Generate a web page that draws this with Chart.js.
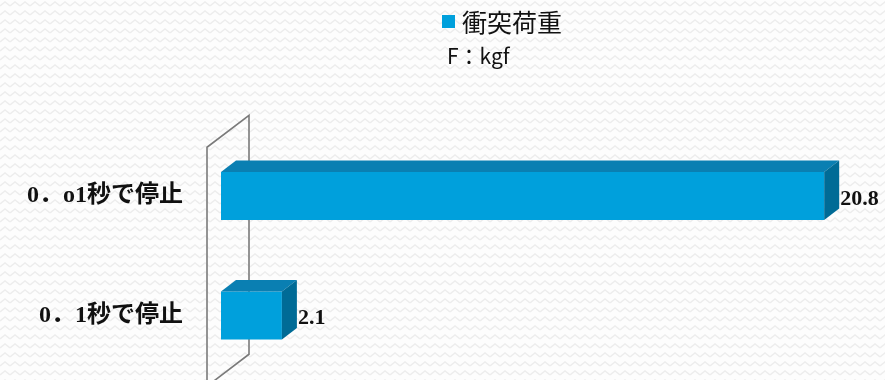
<!DOCTYPE html>
<html lang="ja">
<head>
<meta charset="utf-8">
<title>衝突荷重</title>
<script src="https://cdn.jsdelivr.net/npm/chart.js@4.4.1/dist/chart.umd.min.js"></script>
<style>
  html, body {
    margin: 0;
    padding: 0;
  }
  body {
    background-color: #fdfdfd;
    background-image: url("data:image/svg+xml;utf8,<svg xmlns='http://www.w3.org/2000/svg' width='10' height='9'><polyline points='0,6 5,2 10,6' fill='none' stroke='%23ededed' stroke-width='1.4'/></svg>");
  }
  #wrap {
    width: 885px;
    height: 380px;
    position: relative;
  }
</style>
</head>
<body>
<div id="wrap"><canvas id="grafico"></canvas></div>
<script>
// categorias e valores (kgf)
const categorias = ['0．o1秒で停止', '0．1秒で停止'];
const valores = [20.8, 2.1];
const nomeSerie = '衝突荷重';
const unidade = 'F：kgf';
const eixoMax = 22;

const corFrente = '#00a0dc';
const corTopo = '#0a7fb2';
const corLado = '#006b96';

const prof = { dx: 15, dy: 11.5 };

// parede 3D atrás das barras
const parede = {
  id: 'parede',
  beforeDatasetsDraw(chart) {
    const { ctx, chartArea: a } = chart;
    const xf = a.left - 14, xb = a.left + 28;
    ctx.save();
    ctx.strokeStyle = '#7a7a7a';
    ctx.lineWidth = 1.6;
    ctx.beginPath();
    ctx.moveTo(xf, a.bottom + 11);
    ctx.lineTo(xf, a.top + 11);
    ctx.lineTo(xb, a.top - 21);
    ctx.lineTo(xb, a.bottom - 21);
    ctx.lineTo(xf, a.bottom + 11);
    ctx.stroke();
    ctx.restore();
  }
};

// faces de cima e do lado + rótulos de valor
const barras3d = {
  id: 'barras3d',
  afterDatasetsDraw(chart) {
    const { ctx } = chart;
    const meta = chart.getDatasetMeta(0);
    const dados = chart.data.datasets[0].data;
    ctx.save();
    meta.data.forEach((bar, i) => {
      const { x, y, base, height } = bar.getProps(['x', 'y', 'base', 'height'], true);
      const topo = y - height / 2, baixo = y + height / 2;

      ctx.fillStyle = corTopo;
      ctx.beginPath();
      ctx.moveTo(base, topo);
      ctx.lineTo(base + prof.dx, topo - prof.dy);
      ctx.lineTo(x + prof.dx, topo - prof.dy);
      ctx.lineTo(x, topo);
      ctx.closePath();
      ctx.fill();

      ctx.fillStyle = corLado;
      ctx.beginPath();
      ctx.moveTo(x, topo);
      ctx.lineTo(x + prof.dx, topo - prof.dy);
      ctx.lineTo(x + prof.dx, baixo - prof.dy);
      ctx.lineTo(x, baixo);
      ctx.closePath();
      ctx.fill();

      ctx.fillStyle = '#111';
      ctx.font = 'bold 22px "Liberation Serif", serif';
      ctx.textAlign = 'left';
      ctx.textBaseline = 'middle';
      ctx.fillText(String(dados[i]), x + prof.dx + 1, y + 3);
    });
    ctx.restore();
  }
};

// legenda e unidade no topo
const legenda = {
  id: 'legenda',
  afterDraw(chart) {
    const { ctx } = chart;
    const ds = chart.data.datasets[0];
    ctx.save();
    ctx.fillStyle = ds.backgroundColor;
    ctx.fillRect(442, 15, 13, 13);
    ctx.fillStyle = '#111';
    ctx.textAlign = 'left';
    ctx.textBaseline = 'middle';
    ctx.font = '25px "Noto Sans CJK JP", sans-serif';
    ctx.fillText(ds.label, 462, 22);
    ctx.font = '21px "Noto Sans CJK JP", sans-serif';
    ctx.fillText(unidade, 447, 56);
    ctx.restore();
  }
};

const ctx = document.getElementById('grafico').getContext('2d');

new Chart(ctx, {
  type: 'bar',
  data: {
    labels: categorias,
    datasets: [{
      label: nomeSerie,
      data: valores,
      backgroundColor: corFrente,
      borderWidth: 0,
      barPercentage: 0.4,
      categoryPercentage: 1
    }]
  },
  options: {
    indexAxis: 'y',
    responsive: true,
    maintainAspectRatio: false,
    animation: false,
    layout: {
      padding: { top: 136.25, bottom: 4.75, left: 0, right: 26 }
    },
    plugins: {
      legend: { display: false },
      tooltip: { enabled: false }
    },
    scales: {
      x: {
        display: false,
        min: 0,
        max: eixoMax
      },
      y: {
        grid: { display: false, drawTicks: false },
        border: { display: false },
        afterFit: scale => {
          scale.width = 221;
          // sem folga vertical extra por causa dos rótulos
          scale.paddingTop = 0;
          scale.paddingBottom = 0;
        },
        ticks: {
          color: '#111',
          padding: 38,
          font: { family: '"Liberation Serif", "Noto Sans CJK JP", serif', size: 24, weight: 'bold' }
        }
      }
    }
  },
  plugins: [parede, barras3d, legenda]
});
</script>
</body>
</html>
